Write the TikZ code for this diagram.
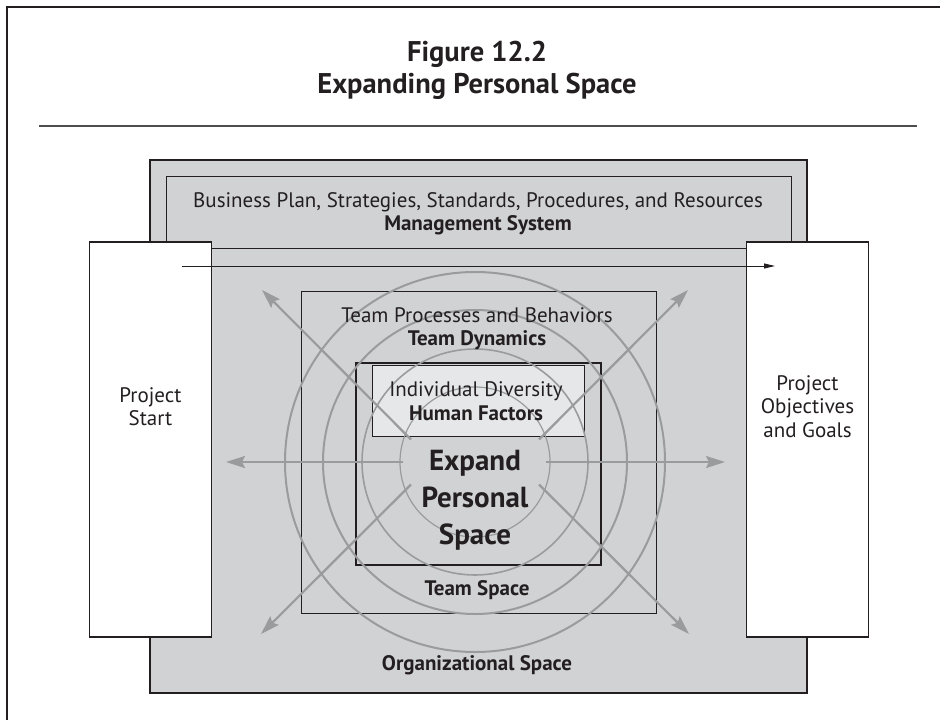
\documentclass[tikz,border=0pt]{standalone}
\usepackage{fontspec}
\setmainfont{PT Sans}
\usetikzlibrary{arrows.meta, positioning, calc}
\definecolor{cpanel}{HTML}{D1D2D4}
\definecolor{clight}{HTML}{E6E7E8}
\definecolor{cring}{HTML}{9A9B9D}
\definecolor{cink}{HTML}{231F20}
\definecolor{crule}{HTML}{4D4D4F}
\tikzset{
  every picture/.style={font=\fontsize{21}{23.5}\selectfont},
  frame/.style={draw=cink, line width=#1, inner sep=0pt, outer sep=0pt},
  frame/.default=1pt,
  txt/.style={align=center, inner sep=0pt, text=cink},
  strong/.style={txt, font=\fontsize{21}{23.5}\selectfont\bfseries},
  ring/.style={draw=cring},
  spoke/.style={-{Stealth[length=19pt, width=12pt, inset=3pt]}, draw=cring, line width=2.2pt},
  flow/.style={-{Triangle[length=11pt, width=5pt]}, draw=cink, line width=0.9pt},
}

\begin{document}
\begin{tikzpicture}[x=1pt, y=-1pt]
  \useasboundingbox (0,0) rectangle (940,720);
  % page frame and title
  \draw[cink, line width=1.6pt] (7,720) -- (7,7) -- (940,7);
  \node[txt, font=\bfseries\fontsize{28.5}{32}\selectfont] (title) at (477,70) {Figure 12.2\\Expanding Personal Space};
  \draw[crule, line width=1.6pt] (39,126) -- (917,126);
  % nested spaces
  \node[frame=2pt, fill=cpanel, minimum width=657pt, minimum height=533pt] (org) at (478.5,426.5) {};
  \node[frame, minimum width=625pt, minimum height=72pt] (mgmt) at (478.5,212) {};
  \node[frame=1.2pt, fill=white, minimum width=122pt, minimum height=395pt] (start) at (150.5,439.5) {};
  \node[frame=1.2pt, fill=white, minimum width=122pt, minimum height=395pt] (goals) at (807.5,439.5) {};
  \node[frame, minimum width=355pt, minimum height=322pt] (team) at (478.5,452) {};
  \node[frame=2.6pt, minimum width=245pt, minimum height=202pt] (self) at (478.5,464) {};
  \node[frame, fill=clight, minimum width=212pt, minimum height=71pt] (indiv) at (478,400.5) {};
  % rings and spokes
  \coordinate (c) at (475,462);
  \foreach \r/\w in {75/1.2pt, 113/1.6pt, 152/2pt, 190/2pt}
    \draw[ring, line width=\w] (c) circle[radius=\r pt];
  \foreach \n/\sx/\sy/\ex/\ey in {w/-72/0/-249/0, e/71/0/250/0, nw/-64/-22.5/-213/-172, ne/64/-22.5/213/-172, sw/-64/22.5/-214/172, se/64/22.5/214/172} {
    \coordinate (s\n) at ($(c)+(\sx,\sy)$);
    \coordinate (e\n) at ($(c)+(\ex,\ey)$);
    \draw[spoke] (s\n) -- (e\n);
  }
  % project flow
  \coordinate (flowin) at (182,266);
  \coordinate (flowout) at (775,266);
  \draw[flow] (flowin) -- (flowout);
  % labels
  \node[txt] (mgmttxt) at (478,213.5) {Business Plan, Strategies, Standards, Procedures, and Resources\\\textbf{Management System}};
  \node[txt] (teamtxt) at (477,328.5) {Team Processes and Behaviors\\\textbf{Team Dynamics}};
  \node[txt] (indivtxt) at (476,401) {Individual Diversity\\\textbf{Human Factors}};
  \node[txt, font=\bfseries\fontsize{29}{37}\selectfont] (eps) at (475,500) {Expand\\Personal\\Space};
  \node[strong] (teamsp) at (477,590) {Team Space};
  \node[strong] (orgsp) at (477,665) {Organizational Space};
  \node[txt] (starttxt) at (150.5,406.5) {Project\\Start};
  \node[txt] (goalstxt) at (807.5,406.5) {Project\\Objectives\\and Goals};
\end{tikzpicture}
\end{document}
